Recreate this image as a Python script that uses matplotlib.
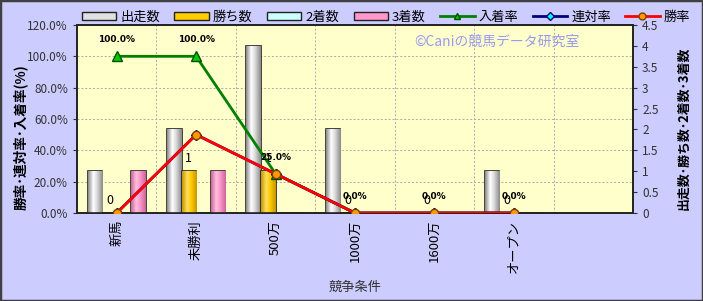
import numpy as np
import matplotlib
matplotlib.use('Agg')
import matplotlib.pyplot as plt
from matplotlib.colors import LinearSegmentedColormap
from matplotlib.patches import Rectangle
from matplotlib.lines import Line2D

plt.rcParams['font.family'] = ['Noto Sans CJK JP', 'DejaVu Sans']

# data
categories = ['新馬', '未勝利', '500万', '1000万', '1600万', 'オープン']
runs = [1, 2, 4, 2, 0, 1]          # 出走数
wins = [0, 1, 1, 0, 0, 0]          # 勝ち数
seconds = [0, 0, 0, 0, 0, 0]       # 2着数
thirds = [1, 1, 0, 0, 0, 0]        # 3着数
place_rate = [100.0, 100.0, 25.0, 0.0, 0.0, 0.0]   # 入着率
rentai_rate = [0.0, 50.0, 25.0, 0.0, 0.0, 0.0]     # 連対率
win_rate = [0.0, 50.0, 25.0, 0.0, 0.0, 0.0]        # 勝率

fig = plt.figure(figsize=(7.03, 3.01), dpi=100)
fig.patch.set_facecolor('#CCCCFF')
fig.patches.append(Rectangle((0, 0), 1, 1, transform=fig.transFigure, fill=False,
                             edgecolor='#404040', linewidth=2.5))

ax = fig.add_axes([0.1095, 0.2924, 0.7909, 0.6246])
ax2 = ax.twinx()
ax.set_zorder(ax2.get_zorder() + 1)
ax.patch.set_visible(False)
ax2.patch.set_visible(True)
ax2.patch.set_facecolor('#FFFFCC')

x = np.arange(len(categories))
w = 0.183

# cylinder-ish shading for bars
def shaded_bars(axis, xs, vals, c_edge, c_mid, c_light):
    cmap = LinearSegmentedColormap.from_list('g', [(0, c_edge), (0.35, c_light), (0.6, c_mid), (1, c_edge)])
    grad = np.linspace(0, 1, 64).reshape(1, -1)
    bars = axis.bar(xs, vals, w, color=c_mid, edgecolor='#222222', linewidth=1.2, zorder=3)
    for b in bars:
        if b.get_height() <= 0:
            continue
        im = axis.imshow(grad, cmap=cmap, aspect='auto', zorder=3,
                         extent=[b.get_x(), b.get_x() + b.get_width(), 0, b.get_height()])
        im.set_clip_path(b)
    return bars

shaded_bars(ax2, x - 1.5 * w, runs, '#8a8a8a', '#dcdcdc', '#ffffff')
shaded_bars(ax2, x - 0.5 * w, wins, '#c89600', '#ffcc00', '#ffe060')
shaded_bars(ax2, x + 0.5 * w, seconds, '#88cccc', '#ccffff', '#eeffff')
shaded_bars(ax2, x + 1.5 * w, thirds, '#cc6699', '#ff99cc', '#ffc0e0')

ax2.set_ylim(0, 4.5)
ax2.set_yticks(np.arange(0, 4.51, 0.5))
ax2.set_yticklabels(['{:g}'.format(v) for v in np.arange(0, 4.51, 0.5)])

for xi, v in zip(x - 0.5 * w, wins):
    ax2.annotate(str(v), (xi, v), xytext=(0, 9), textcoords='offset points',
                 ha='center', va='center', fontsize=9, zorder=5)

ax.plot(x, place_rate, color='#008000', lw=2, marker='^', ms=7, mfc='#00CC00', mec='#005000', zorder=4)
ax.plot(x, rentai_rate, color='#000080', lw=2, marker='D', ms=5, mfc='#00FFFF', mec='#000080', zorder=4)
ax.plot(x, win_rate, color='#FF0000', lw=2, marker='o', ms=6, mfc='#FF9900', mec='#804000', zorder=4)

for xi, v in zip(x, place_rate):
    ax.annotate('{:.1f}%'.format(v), (xi, v), xytext=(0, 12), textcoords='offset points',
                ha='center', va='center', fontsize=6.5, fontweight='bold', zorder=5,
                family='DejaVu Sans')

ax.set_xlim(-0.5, 6.5)
ax.set_ylim(0, 120)
ax.set_yticks(np.arange(0, 121, 20))
ax.set_yticklabels(['{:.1f}%'.format(v) for v in np.arange(0, 121, 20)])
ax.set_xticks(x)
ax.set_xticklabels(categories, rotation=90)
ax.tick_params(axis='x', which='both', length=0, labelsize=9.5, pad=5)
ax.tick_params(axis='y', length=3, labelsize=8.5, colors='#333333')
ax2.tick_params(axis='y', length=3, labelsize=8.5, colors='#333333')
ax.set_xlabel('競争条件', fontsize=9.5, color='#333333', labelpad=6)

# axis titles placed as in the reference
fig.text(20 / 703, 1 - 137 / 301, '勝率･連対率･入着率(%)', rotation=90, ha='center', va='center',
         fontsize=9.8, fontweight='bold')
fig.text(683 / 703, 1 - 128 / 301, '出走数･勝ち数･2着数･3着数', rotation=90, ha='center', va='center',
         fontsize=9.3, fontweight='bold')

# grid drawn on the back axes so it sits under the bars
ax2.set_xlim(-0.5, 6.5)
for yv in np.arange(20, 121, 20):
    ax2.axhline(yv * 4.5 / 120, color='#aaaaaa', lw=0.7, ls=(0, (2, 2)), zorder=1)
for xv in np.arange(0.5, 6.5, 1):
    ax2.axvline(xv, color='#aaaaaa', lw=0.7, ls=(0, (2, 2)), zorder=1)

for a in (ax, ax2):
    for s in a.spines.values():
        s.set_color('#222222')
        s.set_linewidth(1.2)

ax.text(0.755, 0.91, '©Caniの競馬データ研究室', transform=ax.transAxes, ha='center', va='center',
        fontsize=10, color='#9999F0')

handles = [
    Rectangle((0, 0), 1, 1, fc='#e0e0e0', ec='#222222'),
    Rectangle((0, 0), 1, 1, fc='#ffcc00', ec='#222222'),
    Rectangle((0, 0), 1, 1, fc='#ccffff', ec='#222222'),
    Rectangle((0, 0), 1, 1, fc='#ff99cc', ec='#222222'),
    Line2D([], [], color='#008000', lw=2, marker='^', ms=5, mfc='#00CC00', mec='#005000'),
    Line2D([], [], color='#000080', lw=2, marker='D', ms=4, mfc='#00FFFF', mec='#000080'),
    Line2D([], [], color='#FF0000', lw=2, marker='o', ms=5, mfc='#FF9900', mec='#804000'),
]
labels = ['出走数', '勝ち数', '2着数', '3着数', '入着率', '連対率', '勝率']
fig.legend(handles, labels, loc='center', bbox_to_anchor=(386 / 703, 1 - 17 / 301), ncol=7,
           frameon=False, fontsize=9.5, handlelength=2.6, handleheight=0.6,
           handletextpad=0.3, columnspacing=1.1)

fig.savefig('out.png', dpi=100, facecolor=fig.get_facecolor())
